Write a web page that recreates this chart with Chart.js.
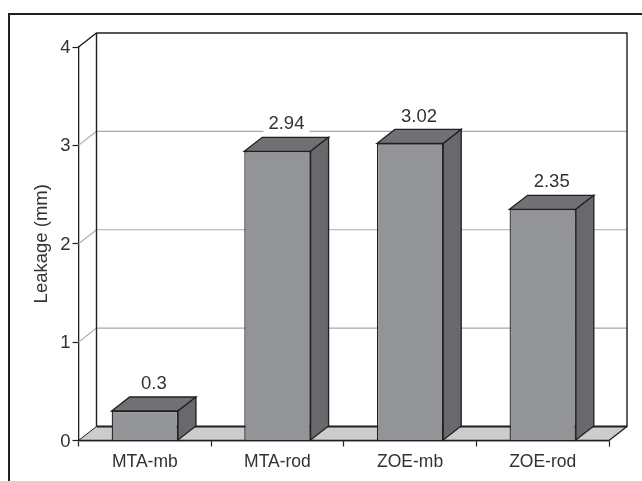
<!DOCTYPE html>
<html>
<head>
<meta charset="utf-8">
<script src="https://cdn.jsdelivr.net/npm/chart.js@4"></script>
<style>
  html, body { margin: 0; padding: 0; background: #fff; }
  canvas { display: block; }
</style>
</head>
<body>
<canvas id="chart" width="642" height="481"></canvas>
<script>
const categories = ['MTA-mb', 'MTA-rod', 'ZOE-mb', 'ZOE-rod'];
const leakage = [0.3, 2.94, 3.02, 2.35];
const yTicks = [0, 1, 2, 3, 4];

const depthX = 18;
const depthY = 14;
const dark = '#231f20';
const textColor = '#333133';
const fontFamily = '"Liberation Sans", Arial, sans-serif';

function poly(ctx, pts, fill, stroke, width) {
  ctx.beginPath();
  pts.forEach((p, i) => i ? ctx.lineTo(p[0], p[1]) : ctx.moveTo(p[0], p[1]));
  ctx.closePath();
  if (fill) { ctx.fillStyle = fill; ctx.fill(); }
  if (stroke) { ctx.strokeStyle = stroke; ctx.lineWidth = width; ctx.stroke(); }
}

function line(ctx, pts, stroke, width) {
  ctx.beginPath();
  pts.forEach((p, i) => i ? ctx.lineTo(p[0], p[1]) : ctx.moveTo(p[0], p[1]));
  ctx.strokeStyle = stroke;
  ctx.lineWidth = width;
  ctx.stroke();
}

// back wall, floor and gridlines of the 3D box
const wallPlugin = {
  id: 'wall',
  beforeDatasetsDraw(chart) {
    const ctx = chart.ctx;
    const { left, right, top, bottom } = chart.chartArea;
    const y = chart.scales.y;
    ctx.save();
    // frame: left and top only, runs off the picture
    line(ctx, [[9, 481], [9, 14], [642, 14]], dark, 2);
    // floor
    poly(ctx, [[left, bottom], [left + depthX, bottom - depthY], [right + depthX, bottom - depthY], [right, bottom]], '#cbcccd', null);
    // gridlines
    yTicks.slice(1, -1).forEach(t => {
      const py = y.getPixelForValue(t);
      line(ctx, [[left, py], [left + depthX, py - depthY], [right + depthX, py - depthY]], '#a8a9ab', 1.2);
    });
    // walls
    line(ctx, [[left, top], [left + depthX, top - depthY], [right + depthX, top - depthY], [right + depthX, bottom - depthY], [right, bottom]], dark, 1.4);
    line(ctx, [[left + depthX, top - depthY], [left + depthX, bottom - depthY]], dark, 1.4);
    line(ctx, [[left + depthX, bottom - depthY], [right + depthX, bottom - depthY]], dark, 1.9);
    line(ctx, [[left, bottom], [left + depthX, bottom - depthY]], dark, 1);
    line(ctx, [[left, bottom], [right, bottom]], dark, 1.6);
    ctx.restore();
  },
  afterDatasetsDraw(chart) {
    const ctx = chart.ctx;
    const meta = chart.getDatasetMeta(0);
    ctx.save();
    meta.data.forEach((bar, i) => {
      const w = bar.width / 2;
      const l = bar.x - w, r = bar.x + w, t = bar.y, b = bar.base;
      // top and side faces
      poly(ctx, [[l, t], [l + depthX, t - depthY], [r + depthX, t - depthY], [r, t]], '#707174', dark, 1.3);
      poly(ctx, [[r, t], [r + depthX, t - depthY], [r + depthX, b - depthY], [r, b]], '#68696c', dark, 1.3);
      // value label, white box knocks out the gridline behind it
      ctx.font = '18.5px ' + fontFamily;
      ctx.textAlign = 'center';
      ctx.textBaseline = 'middle';
      const label = String(leakage[i]);
      const cx = bar.x + depthX / 2;
      const cy = t - depthY - 13;
      const tw = ctx.measureText(label).width;
      ctx.fillStyle = '#fff';
      ctx.fillRect(cx - tw / 2 - 5, cy - 9, tw + 10, 18);
      ctx.fillStyle = textColor;
      ctx.fillText(label, cx, cy);
    });
    ctx.restore();
  }
};

new Chart(document.getElementById('chart'), {
  type: 'bar',
  data: {
    labels: categories,
    datasets: [{
      data: leakage,
      backgroundColor: '#939497',
      borderColor: dark,
      borderWidth: 1.3,
      barPercentage: 0.5,
      categoryPercentage: 1
    }]
  },
  options: {
    responsive: false,
    animation: false,
    layout: { padding: { top: 47, right: 33, bottom: 0, left: 0 } },
    plugins: {
      legend: { display: false },
      tooltip: { enabled: false }
    },
    scales: {
      x: {
        afterFit: s => { s.height = 40.5; },
        grid: { offset: true, drawOnChartArea: false, drawTicks: true, tickLength: 6, tickColor: dark, tickWidth: 1.2 },
        border: { color: dark, width: 1.3 },
        ticks: { color: textColor, font: { family: fontFamily, size: 17.5 }, padding: 5 }
      },
      y: {
        min: 0,
        max: 4,
        afterFit: s => { s.width = 78.5; },
        afterBuildTicks: s => { s.ticks = yTicks.map(v => ({ value: v })); },
        grid: { drawOnChartArea: false, drawTicks: true, tickLength: 6, tickColor: dark, tickWidth: 1.2 },
        border: { color: dark, width: 1.3 },
        ticks: { color: textColor, font: { family: fontFamily, size: 18.5 }, padding: 2, labelOffset: 1 },
        title: { display: true, text: 'Leakage (mm)', color: textColor, font: { family: fontFamily, size: 18.5 }, padding: { top: 31, bottom: 0 } }
      }
    }
  },
  plugins: [wallPlugin]
});
</script>
</body>
</html>
